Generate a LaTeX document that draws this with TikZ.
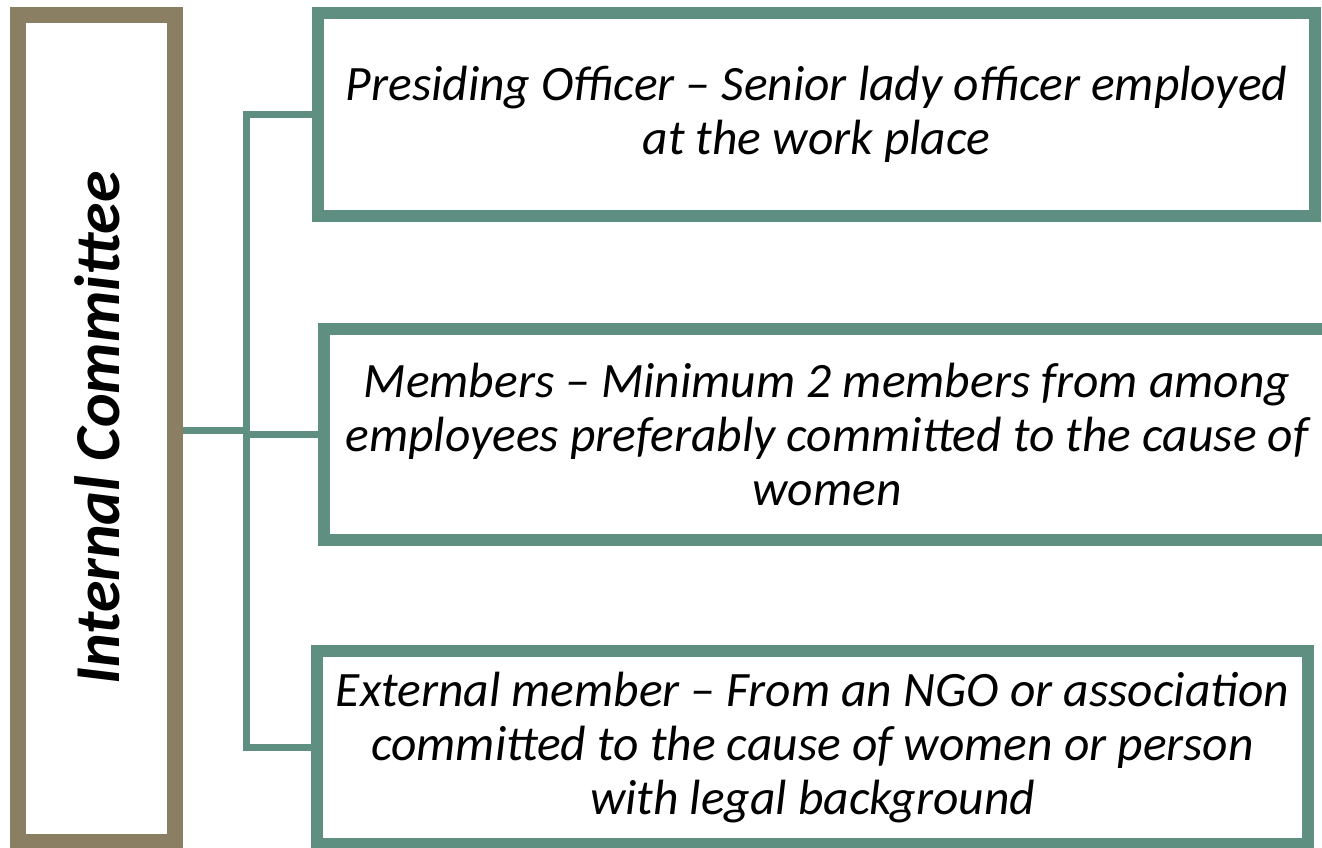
\documentclass[tikz,border=0pt]{standalone}
\usepackage{fontspec}
\setmainfont{Carlito}
\usetikzlibrary{positioning}
\definecolor{frameolive}{HTML}{8A7F62}
\definecolor{frameteal}{HTML}{5F8F80}

\begin{document}
\begin{tikzpicture}[
            x=1pt, y=-1pt,
        head box/.style={rectangle,draw=frameolive,line width=16pt,fill=white,
                         minimum width=157pt,minimum height=827pt,inner sep=0pt},
        role box/.style={rectangle,draw=frameteal,line width=12pt,fill=white,
                         align=center,inner sep=0pt,
                         font=\itshape\fontsize{49.5}{54}\selectfont},
        link/.style={draw=frameteal,line width=7pt}
                                ]
    \useasboundingbox (0,0) rectangle (1322,847);

          \node[head box] (committee) at (96.5,428.5) {};
          \node[rotate=90,font=\bfseries\itshape\fontsize{64}{68}\selectfont]
                (title) at (97,428) {Internal Committee};

          \node[role box,minimum width=997pt,minimum height=203pt] (presiding) at (816.5,114.5)
                {Presiding Officer -- Senior lady officer employed\\at the work place};
          \node[role box,minimum width=1006pt,minimum height=211pt] (members) at (827,434)
                {Members -- Minimum 2 members from among\\employees preferably committed to the cause of\\women};
          \node[role box,minimum width=991pt,minimum height=193pt] (external) at (812.5,747.5)
                {External member -- From an NGO or association\\committed to the cause of women or person\\with legal background};

          \coordinate (fork) at (246,430);
          \draw[link] (committee.east |- fork) -- (fork);
          \draw[link] (presiding.west) -| (fork) |- (external.west);
          \draw[link] (fork |- members.west) -- (members.west);
    \end{tikzpicture}
\end{document}
